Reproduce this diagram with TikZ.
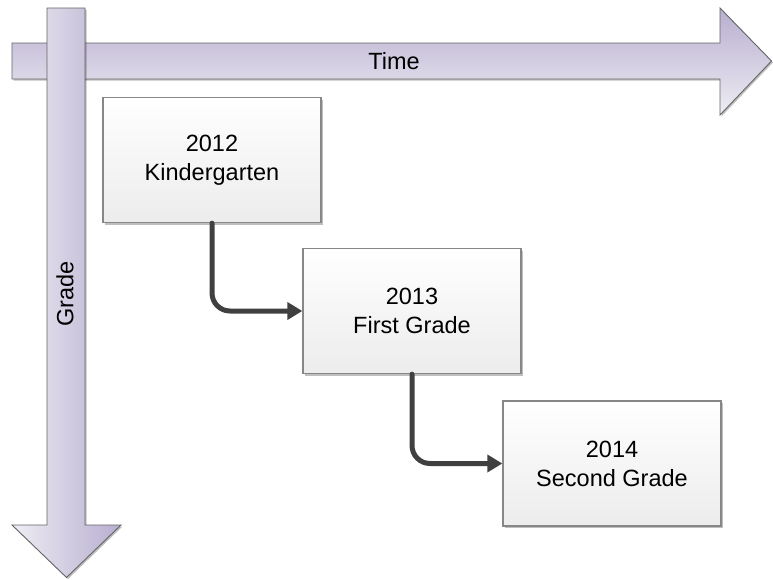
\documentclass[tikz,border=0pt]{standalone}
\usepackage{fontspec}
\setmainfont{Liberation Sans}
\usetikzlibrary{arrows.meta,shadows}
\definecolor{arrdark}{RGB}{184,174,208}
\definecolor{arrlight}{RGB}{238,237,243}
\definecolor{arredge}{RGB}{100,100,100}
\definecolor{boxedge}{RGB}{135,135,135}
\definecolor{boxbot}{RGB}{236,236,236}
\definecolor{conncol}{RGB}{64,64,64}
\tikzset{
  bigarrow/.style={draw=arredge, line width=0.9pt, line join=miter,
    drop shadow={shadow xshift=1.5pt, shadow yshift=-1.5pt, opacity=0.25, fill=black}},
  stagebox/.style={draw=boxedge, line width=1.3pt, top color=white, bottom color=boxbot,
    minimum width=218pt, minimum height=125pt, align=center, inner sep=0pt,
    font=\fontsize{23.5}{29}\selectfont,
    drop shadow={shadow xshift=2pt, shadow yshift=-2pt, opacity=0.25, fill=black}},
  axislabel/.style={font=\fontsize{23.5}{27}\selectfont, inner sep=0pt},
  conn/.style={draw=conncol, line width=5pt, rounded corners=18pt, line cap=round,
    -{Triangle[length=15pt,width=17pt]}}
}
\begin{document}
\begin{tikzpicture}[x=1pt,y=-1pt]
\useasboundingbox (0,0) rectangle (773,579);
% horizontal (Time) arrow
\path[bigarrow, top color=arrdark, bottom color=arrlight]
  (12,43) -- (720,43) -- (720,8) -- (771.5,61) -- (720,115) -- (720,79) -- (12,79) -- cycle;
\node[axislabel] (time) at (394,61) {Time};
% vertical (Grade) arrow
\path[bigarrow, left color=arrlight, right color=arrdark]
  (47,8) -- (85,8) -- (85,525) -- (121,525) -- (66.5,577.5) -- (12,525) -- (47,525) -- cycle;
\node[axislabel, rotate=90] (grade) at (65,294) {Grade};
% stage boxes
\node[stagebox] (b1) at (212,160) {2012\\Kindergarten};
\node[stagebox] (b2) at (412,311) {2013\\First Grade};
\node[stagebox] (b3) at (612,463.5) {2014\\Second Grade};
% connectors
\draw[conn] (b1.south) |- (b2.west);
\draw[conn] (b2.south) |- (b3.west);
\end{tikzpicture}
\end{document}
